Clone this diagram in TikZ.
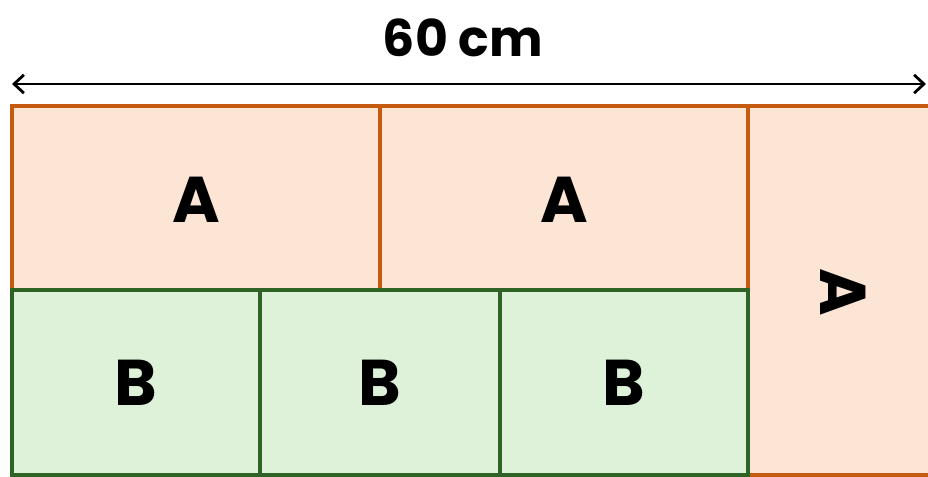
\documentclass[tikz,border=0pt]{standalone}
\usepackage{fontspec}
\setmainfont{Poppins}
\usepackage{xcolor}
\usetikzlibrary{arrows.meta}
\definecolor{peach}{HTML}{FDE5D6}
\definecolor{rust}{HTML}{C55A11}
\definecolor{mint}{HTML}{DDF2D9}
\definecolor{leaf}{HTML}{2F6326}

\begin{document}
\begin{tikzpicture}[x=0.025cm,y=-0.025cm,
    partA/.style={fill=peach,draw=rust,line width=2.4pt},
    partB/.style={fill=mint,draw=leaf,line width=2.4pt},
    tag/.style={font=\bfseries\fontsize{46}{48}\selectfont,text=black}]
    \useasboundingbox (0,0) rectangle (928,477);
    \clip (0,0) rectangle (928,477);
    % A pieces
          \filldraw[partA] (12,106) rectangle (380,290);
          \filldraw[partA] (380,106) rectangle (748,290);
          \filldraw[partA] (748,106) rectangle (945,475);
    % B pieces
          \filldraw[partB] (12,290) rectangle (260,475);
          \filldraw[partB] (260,290) rectangle (500,475);
          \filldraw[partB] (500,290) rectangle (748,475);
    \node[tag] (a1) at (196,200) {A};
    \node[tag] (a2) at (564,200) {A};
    \node[tag,rotate=-90] (a3) at (843,292) {A};
    \node[tag] (b1) at (136,383) {B};
    \node[tag] (b2) at (380,383) {B};
    \node[tag] (b3) at (624,383) {B};
    % width
    \coordinate (wl) at (12,84);
    \coordinate (wr) at (926,84);
          \draw[line width=2pt,{Straight Barb[length=7pt,width=13pt]}-{Straight Barb[length=7pt,width=13pt]}] (wl) -- (wr);
    \node[font=\bfseries\fontsize{36}{38}\selectfont] (len) at (463,38) {60 cm};
    \end{tikzpicture}
\end{document}
